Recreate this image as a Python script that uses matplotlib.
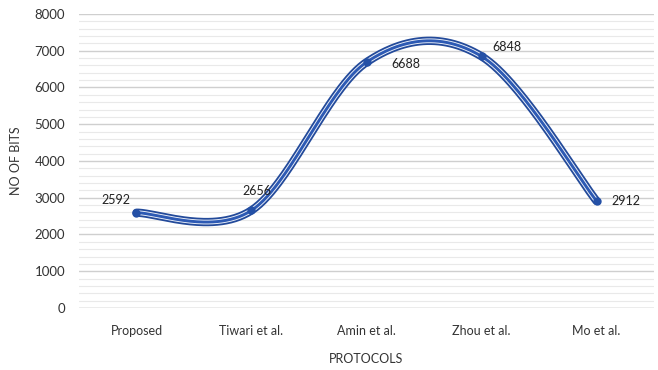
import numpy as np
import matplotlib.pyplot as plt
from matplotlib.ticker import MultipleLocator

protocols = ["Proposed", "Tiwari et al.", "Amin et al.", "Zhou et al.", "Mo et al."]
bits = [2592, 2656, 6688, 6848, 2912]


# Excel style smoothed line: Catmull-Rom segments as cubic Bezier
def smooth(x, y, n=60):
    p = np.column_stack([x, y]).astype(float)
    pts = np.vstack([p[0], p, p[-1]])
    out = []
    for i in range(1, len(pts) - 2):
        p0, p1, p2, p3 = pts[i - 1], pts[i], pts[i + 1], pts[i + 2]
        c1 = p1 + (p2 - p0) / 6
        c2 = p2 - (p3 - p1) / 6
        t = np.linspace(0, 1, n)[:, None]
        seg = ((1 - t) ** 3) * p1 + 3 * ((1 - t) ** 2) * t * c1 \
            + 3 * (1 - t) * t ** 2 * c2 + t ** 3 * p2
        out.append(seg)
    s = np.vstack(out)
    return s[:, 0], s[:, 1]


plt.rcParams['font.family'] = ['Lato', 'DejaVu Sans']

fig = plt.figure(figsize=(6.58, 3.70), dpi=100)
ax = fig.add_axes([0.120, 0.1676, 0.874, 0.7946])

x = np.arange(len(protocols))
xs, ys = smooth(x, bits)

ax.plot(xs, ys, color='#234a9a', lw=6.0, solid_capstyle='round', zorder=3)
ax.plot(xs, ys, color='#eef2fa', lw=3.4, solid_capstyle='round', zorder=4)
ax.plot(xs, ys, color='#2d5ab4', lw=2.1, solid_capstyle='round', zorder=5)
ax.plot(x, bits, 'o', color='#2450a6', ms=5, zorder=6)

offsets = [(-15, 9), (4, 14), (28, -1), (18, 7), (21, 0)]
for xi, v, (dx, dy) in zip(x, bits, offsets):
    ax.annotate(str(v), (xi, v), xytext=(dx, dy), textcoords='offset points',
                ha='center', va='center', fontsize=9, color='#222222', zorder=7)

ax.set_xlim(-0.5, len(protocols) - 0.5)
ax.set_ylim(0, 8000)
ax.yaxis.set_major_locator(MultipleLocator(1000))
ax.yaxis.set_minor_locator(MultipleLocator(200))
ax.grid(which='major', axis='y', color='#cfcfcf', lw=1.0)
ax.grid(which='minor', axis='y', color='#e9e9e9', lw=0.8)
ax.set_axisbelow(True)
for s in ax.spines.values():
    s.set_visible(False)
ax.axhline(0, color='#c8c8c8', lw=1.0, zorder=1)

ax.set_xticks(x)
ax.set_xticklabels(protocols)
ax.tick_params(axis='both', which='both', length=0, labelcolor='#333333')
ax.tick_params(axis='x', pad=12, labelsize=9)
ax.tick_params(axis='y', pad=10, labelsize=9.5)

ax.set_xlabel("PROTOCOLS", fontsize=9, color='#333333', labelpad=12)
ax.set_ylabel("NO OF BITS", fontsize=9, color='#333333', labelpad=9)

fig.savefig("out.png", dpi=100)
